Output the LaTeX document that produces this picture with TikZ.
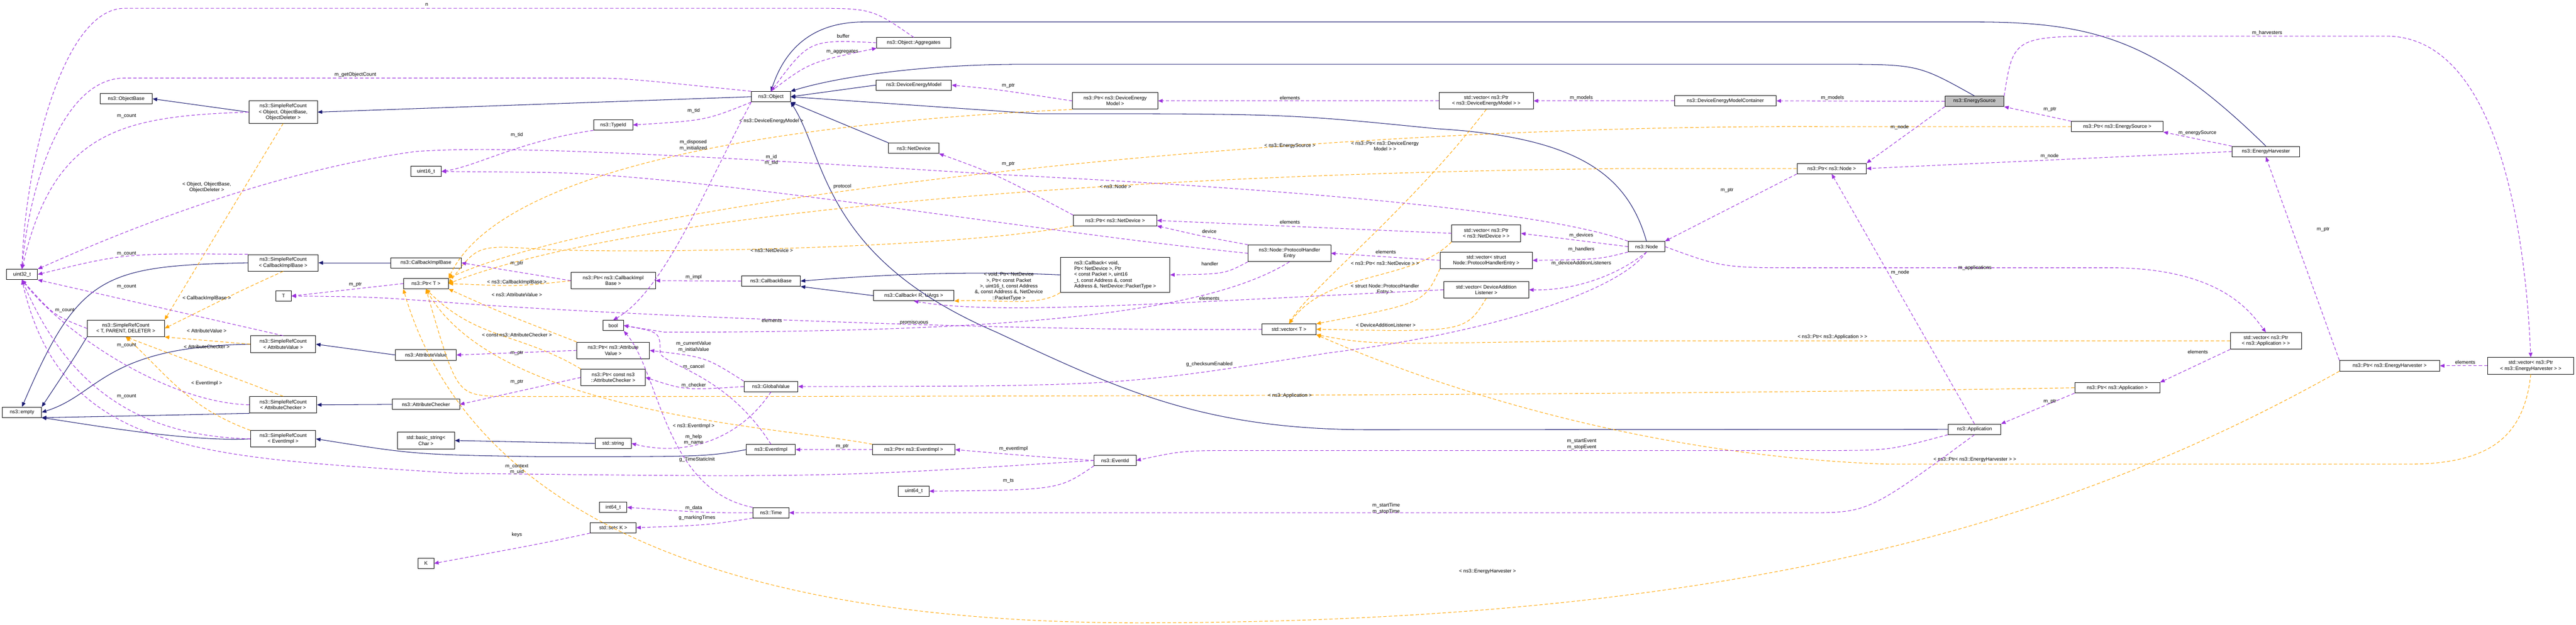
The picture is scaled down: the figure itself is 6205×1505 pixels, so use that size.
\documentclass[tikz,border=0pt]{standalone}
\usepackage{fontspec}
\setmainfont{Liberation Sans}
\usetikzlibrary{arrows.meta}
\definecolor{inhc}{RGB}{25,25,112}
\definecolor{memc}{RGB}{155,48,220}
\definecolor{tmpc}{RGB}{255,165,0}
\tikzset{
  box/.style={draw, line width=1.1pt, fill=white, align=center, inner sep=2pt, minimum height=25pt, font=\fontsize{12}{14}\selectfont},
  lbl/.style={align=center, inner sep=1pt, font=\fontsize{12}{14}\selectfont},
  inh/.style={draw=inhc, line width=1.3pt, -{Triangle[length=11pt,width=9pt]}},
  mem/.style={draw=memc, line width=1.3pt, dash pattern=on 8pt off 5pt, -{Triangle[length=11pt,width=9pt]}},
  tmp/.style={draw=tmpc, line width=1.3pt, dash pattern=on 8pt off 5pt, -{Triangle[length=11pt,width=9pt]}}
}
\begin{document}
\begin{tikzpicture}[x=1pt,y=-1pt]
\useasboundingbox (0,0) rectangle (6205,1505);
% nodes
\node[box,minimum width=75] (uint32) at (53,661) {uint32\_t};
\node[box,minimum width=126] (objbase) at (304,238) {ns3::ObjectBase};
\node[box,minimum width=165,minimum height=54] (srcobj) at (682,270) {ns3::SimpleRefCount\\< Object, ObjectBase,\\ObjectDeleter >};
\node[box,minimum width=74] (uint16) at (1026,413) {uint16\_t};
\node[box,minimum width=169,minimum height=40] (srccib) at (682,633) {ns3::SimpleRefCount\\< CallbackImplBase >};
\node[box,minimum width=170] (cib) at (1026,633) {ns3::CallbackImplBase};
\node[box,minimum width=108] (ptrT) at (1026,683) {ns3::Ptr< T >};
\node[box,minimum width=37] (T) at (683,713) {T};
\node[box,minimum width=186,minimum height=40] (srctpd) at (303,791) {ns3::SimpleRefCount\\< T, PARENT, DELETER >};
\node[box,minimum width=157,minimum height=40] (srcav) at (682,829) {ns3::SimpleRefCount\\< AttributeValue >};
\node[box,minimum width=146] (av) at (1026,855) {ns3::AttributeValue};
\node[box,minimum width=162,minimum height=40] (srcac) at (682,975) {ns3::SimpleRefCount\\< AttributeChecker >};
\node[box,minimum width=162] (ac) at (1026,974) {ns3::AttributeChecker};
\node[box,minimum width=94] (empty) at (53,993) {ns3::empty};
\node[box,minimum width=157,minimum height=40] (srcev) at (682,1057) {ns3::SimpleRefCount\\< EventImpl >};
\node[box,minimum width=138,minimum height=40] (bstr) at (1026,1061) {std::basic\_string<\\Char >};
\node[box,minimum width=38] (K) at (1026,1357) {K};
\node[box,minimum width=178] (agg) at (2201,103) {ns3::Object::Aggregates};
\node[box,minimum width=94] (obj) at (1857,233) {ns3::Object};
\node[box,minimum width=182] (dem) at (2201,205) {ns3::DeviceEnergyModel};
\node[box,minimum width=94] (typeid) at (1477,301) {ns3::TypeId};
\node[box,minimum width=121] (netdev) at (2201,357) {ns3::NetDevice};
\node[box,minimum width=203,minimum height=40] (ptrcib) at (1477,676) {ns3::Ptr< ns3::CallbackImpl\\Base >};
\node[box,minimum width=142] (cbbase) at (1857,677) {ns3::CallbackBase};
\node[box,minimum width=194] (cbR) at (2201,712) {ns3::Callback< R, UArgs >};
\node[box,minimum width=50] (bool) at (1477,784) {bool};
\node[box,minimum width=175,minimum height=40] (ptrav) at (1477,844) {ns3::Ptr< ns3::Attribute\\Value >};
\node[box,minimum width=155,minimum height=40] (ptrac) at (1477,909) {ns3::Ptr< const ns3\\::AttributeChecker >};
\node[box,minimum width=130] (gv) at (1857,931) {ns3::GlobalValue};
\node[box,minimum width=87] (str) at (1477,1068) {std::string};
\node[box,minimum width=118] (evimpl) at (1857,1083) {ns3::EventImpl};
\node[box,minimum width=199] (ptrev) at (2201,1083) {ns3::Ptr< ns3::EventImpl >};
\node[box,minimum width=74] (u64) at (2201,1183) {uint64\_t};
\node[box,minimum width=66] (i64) at (1477,1222) {int64\_t};
\node[box,minimum width=87] (time) at (1857,1235) {ns3::Time};
\node[box,minimum width=110] (setK) at (1477,1271) {std::set< K >};
\node[box,minimum width=206,minimum height=40] (ptrdem) at (2686,243) {ns3::Ptr< ns3::DeviceEnergy\\Model >};
\node[box,minimum width=227,minimum height=40] (vecdem) at (3580,243) {std::vector< ns3::Ptr\\< ns3::DeviceEnergyModel > >};
\node[box,minimum width=245] (demc) at (4156,243) {ns3::DeviceEnergyModelContainer};
\node[box,minimum width=201] (ptrnd) at (2686,531) {ns3::Ptr< ns3::NetDevice >};
\node[box,minimum width=166,minimum height=40] (vecnd) at (3580,562) {std::vector< ns3::Ptr\\< ns3::NetDevice > >};
\node[box,minimum width=199,minimum height=40] (phe) at (3106,610) {ns3::Node::ProtocolHandler\\Entry};
\node[box,minimum width=264,minimum height=85,align=left] (cbv) at (2686,662) {ns3::Callback< void,\\ Ptr< NetDevice >, Ptr\\< const Packet >, uint16\\\_t, const Address \&, const\\ Address \&, NetDevice::PacketType >};
\node[box,minimum width=222,minimum height=40] (vecphe) at (3580,627) {std::vector< struct\\ Node::ProtocolHandlerEntry >};
\node[box,minimum width=205,minimum height=40] (vecdal) at (3580,698) {std::vector< DeviceAddition\\Listener >};
\node[box,minimum width=88] (node) at (3966,594) {ns3::Node};
\node[box,minimum width=130] (vecT) at (3105,793) {std::vector< T >};
\node[box,minimum width=101] (evid) at (2686,1109) {ns3::EventId};
\node[box,minimum width=142,fill=black!25] (es) at (4756,244) {ns3::EnergySource};
\node[box,minimum width=221] (ptres) at (5100,305) {ns3::Ptr< ns3::EnergySource >};
\node[box,minimum width=163] (eh) at (5458,365) {ns3::EnergyHarvester};
\node[box,minimum width=167] (ptrnode) at (4412,406) {ns3::Ptr< ns3::Node >};
\node[box,minimum width=171,minimum height=40] (vecapp) at (5458,821) {std::vector< ns3::Ptr\\< ns3::Application > >};
\node[box,minimum width=241] (ptreh) at (5756,881) {ns3::Ptr< ns3::EnergyHarvester >};
\node[box,minimum width=207,minimum height=40] (veceh) at (6096,881) {std::vector< ns3::Ptr\\< ns3::EnergyHarvester > >};
\node[box,minimum width=205] (ptrapp) at (5100,934) {ns3::Ptr< ns3::Application >};
\node[box,minimum width=127] (app) at (4756,1034) {ns3::Application};
% inheritance
\draw[inh] (srcobj.west) -- (objbase.east);
\draw[inh] (obj.west) -- (srcobj.east);
\draw[inh] (dem.west) -- (obj.east);
\draw[inh] (netdev.north west) -- (obj.south east);
\draw[inh] (es.north) .. controls (4620,155) .. (4420,155) -- (2460,155) .. controls (2200,155) and (2000,190) .. (obj.north east);
\draw[inh] (eh.north) .. controls (5200,100) and (5050,53) .. (4760,53) -- (2080,53) .. controls (1930,53) and (1880,150) .. (obj.north);
\draw[inh] (node.north) .. controls (3920,420) and (3800,330) .. (3460,310) .. controls (3100,274) .. (2500,274) -- (obj.east);
\draw[inh] (app.west) -- (3300,1035) .. controls (2900,1035) and (2700,940) .. (2400,800) .. controls (1980,620) and (1990,380) .. (obj.south east);
\draw[inh] (srccib.west) .. controls (250,640) and (190,660) .. (empty.north);
\draw[inh] (cib.west) -- (srccib.east);
\draw[inh] (srctpd.south west) .. controls (180,860) .. (empty.north east);
\draw[inh] (srcav.west) .. controls (250,835) and (240,950) .. (empty.east);
\draw[inh] (av.west) -- (srcav.east);
\draw[inh] (srcac.south west) .. controls (400,1000) .. (empty.south east);
\draw[inh] (ac.west) -- (srcac.east);
\draw[inh] (srcev.west) .. controls (450,1065) and (200,1020) .. (empty.south east);
\draw[inh] (evimpl.west) .. controls (1700,1100) .. (1300,1100) .. controls (1000,1095) .. (srcev.east);
\draw[inh] (str.west) -- (bstr.east);
\draw[inh] (cbR.west) -- (cbbase.south east);
\draw[inh] (cbv.west) .. controls (2400,655) and (2200,655) .. (cbbase.east);
% templates
\draw[tmp] (srcobj.south) -- (srctpd.north east);
\node[lbl] (l1) at (498,451) {< Object, ObjectBase,\\ObjectDeleter >};
\draw[tmp] (srccib.south) .. controls (580,700) .. (srctpd.east);
\node[lbl] (l2) at (498,718) {< CallbackImplBase >};
\draw[tmp] (srcav.west) -- (srctpd.south east);
\node[lbl] (l3) at (498,797) {< AttributeValue >};
\draw[tmp] (srcac.north) -- (srctpd.south);
\node[lbl] (l4) at (498,835) {< AttributeChecker >};
\draw[tmp] (srcev.north west) .. controls (450,980) and (400,900) .. (srctpd.south);
\node[lbl] (l5) at (498,923) {< EventImpl >};
\draw[tmp] (ptrdem.south west) .. controls (1800,300) and (1200,420) .. (ptrT.north east);
\node[lbl] (l6) at (1858,292) {< ns3::DeviceEnergyModel >};
\draw[tmp] (ptres.west) -- (4380,305) .. controls (3100,300) and (1500,480) .. (ptrT.north east);
\node[lbl] (l7) at (3107,351) {< ns3::EnergySource >};
\draw[tmp] (ptrnode.west) -- (3900,406) .. controls (2600,420) and (1500,520) .. (ptrT.east);
\node[lbl] (l8) at (2687,449) {< ns3::Node >};
\draw[tmp] (ptrnd.south west) .. controls (2300,600) and (1500,612) .. (1300,600) .. controls (1150,590) .. (ptrT.east);
\node[lbl] (l9) at (1859,603) {< ns3::NetDevice >};
\draw[tmp] (ptrcib.west) .. controls (1250,690) .. (ptrT.east);
\node[lbl] (l10) at (1245,680) {< ns3::CallbackImplBase >};
\draw[tmp] (ptrav.north west) .. controls (1200,750) .. (ptrT.south east);
\node[lbl] (l11) at (1245,710) {< ns3::AttributeValue >};
\draw[tmp] (ptrac.north west) .. controls (1250,800) and (1150,820) .. (ptrT.south);
\node[lbl] (l12) at (1245,807) {< const ns3::AttributeChecker >};
\draw[tmp] (ptrev.north west) .. controls (1900,1030) and (1200,1000) .. (ptrT.south);
\node[lbl] (l13) at (1671,1026) {< ns3::EventImpl >};
\draw[tmp] (ptrapp.west) .. controls (3800,955) and (2000,955) .. (1200,955) .. controls (1100,950) .. (ptrT.south);
\node[lbl] (l14) at (3107,953) {< ns3::Application >};
\draw[tmp] (ptreh.south west) .. controls (5000,1250) and (4200,1505) .. (2700,1500) .. controls (1500,1490) and (1090,1100) .. (ptrT.south west);
\node[lbl] (l15) at (3583,1376) {< ns3::EnergyHarvester >};
\draw[tmp] (vecdem.south) .. controls (3400,500) and (3150,700) .. (vecT.north);
\node[lbl] (l16) at (3336,352) {< ns3::Ptr< ns3::DeviceEnergy\\Model > >};
\draw[tmp] (vecnd.south west) .. controls (3400,680) and (3200,650) .. (vecT.north);
\node[lbl] (l17) at (3336,634) {< ns3::Ptr< ns3::NetDevice > >};
\draw[tmp] (vecphe.south west) .. controls (3430,730) .. (vecT.north east);
\node[lbl] (l18) at (3336,697) {< struct Node::ProtocolHandler\\Entry >};
\draw[tmp] (vecdal.south) .. controls (3530,800) .. (vecT.east);
\node[lbl] (l19) at (3338,783) {< DeviceAdditionListener >};
\draw[tmp] (vecapp.west) -- (3800,821) .. controls (3300,830) .. (vecT.south east);
\node[lbl] (l20) at (4414,812) {< ns3::Ptr< ns3::Application > >};
\draw[tmp] (veceh.south) .. controls (6080,1050) and (6000,1118) .. (5800,1118) -- (4550,1118) .. controls (4000,1100) and (3500,950) .. (vecT.south east);
\node[lbl] (l21) at (4757,1107) {< ns3::Ptr< ns3::EnergyHarvester > >};
\draw[tmp] (cbv.south west) .. controls (2500,740) and (2400,720) .. (cbR.south east);
\node[lbl] (l22) at (2430,690) {< void, Ptr< NetDevice\\>, Ptr< const Packet\\>, uint16\_t, const Address\\\&, const Address \&, NetDevice\\::PacketType >};
% members
\draw[mem] (srcobj.west) .. controls (300,280) and (130,310) .. (uint32.north);
\node[lbl] (m1) at (305,280) {m\_count};
\draw[mem] (srccib.north west) .. controls (300,610) .. (uint32.east);
\node[lbl] (m2) at (305,611) {m\_count};
\draw[mem] (srctpd.west) .. controls (130,760) .. (uint32.south);
\node[lbl] (m3) at (156,748) {m\_count};
\draw[mem] (srcav.north) -- (uint32.south east);
\node[lbl] (m4) at (305,691) {m\_count};
\draw[mem] (srcac.west) .. controls (400,970) and (150,800) .. (uint32.south);
\node[lbl] (m5) at (305,832) {m\_count};
\draw[mem] (srcev.west) .. controls (300,1050) and (150,900) .. (uint32.south);
\node[lbl] (m6) at (305,955) {m\_count};
\draw[mem] (agg.north) .. controls (2100,20) .. (1950,20) -- (300,20) .. controls (150,20) and (60,400) .. (uint32.north);
\node[lbl] (m7) at (1028,11) {n};
\draw[mem] (obj.north west) .. controls (1500,188) .. (1400,188) -- (300,188) .. controls (150,188) and (70,450) .. (uint32.north);
\node[lbl] (m8) at (856,180) {m\_getObjectCount};
\draw[mem] (typeid.south west) .. controls (1250,340) and (1150,400) .. (uint16.east);
\node[lbl] (m9) at (1245,325) {m\_tid};
\draw[mem] (phe.west) .. controls (2500,560) and (1700,420) .. (1300,415) -- (uint16.east);
\node[lbl] (m10) at (2029,449) {protocol};
\draw[mem] (node.north west) .. controls (3700,500) and (3000,450) .. (2400,420) .. controls (1600,370) and (1200,350) .. (1000,365) .. controls (600,420) and (200,600) .. (uint32.north east);
\node[lbl] (m11) at (1858,385) {m\_id\\m\_sid};
\draw[mem] (obj.south west) .. controls (1700,290) .. (typeid.east);
\node[lbl] (m12) at (1671,267) {m\_tid};
\draw[mem] (obj.north) .. controls (1950,150) .. (agg.south west);
\node[lbl] (m13) at (2029,124) {m\_aggregates};
\draw[mem] (agg.west) .. controls (1950,95) .. (obj.north);
\node[lbl] (m14) at (2031,87) {buffer};
\draw[mem] (obj.south west) .. controls (1700,450) and (1600,700) .. (bool.north);
\node[lbl] (m15) at (1670,350) {m\_disposed\\m\_initialized};
\draw[mem] (ptrT.west) -- (T.east);
\node[lbl] (m16) at (856,685) {m\_ptr};
\draw[mem] (ptrcib.west) -- (cib.east);
\node[lbl] (m17) at (1245,635) {m\_ptr};
\draw[mem] (cbbase.west) -- (ptrcib.east);
\node[lbl] (m18) at (1671,668) {m\_impl};
\draw[mem] (ptrav.west) -- (av.east);
\node[lbl] (m19) at (1245,851) {m\_ptr};
\draw[mem] (ptrac.west) -- (ac.east);
\node[lbl] (m20) at (1245,920) {m\_ptr};
\draw[mem] (gv.north west) .. controls (1700,860) .. (ptrav.east);
\node[lbl] (m21) at (1671,835) {m\_currentValue\\m\_initialValue};
\draw[mem] (gv.west) .. controls (1650,940) .. (ptrac.east);
\node[lbl] (m22) at (1671,928) {m\_checker};
\draw[mem] (gv.south) .. controls (1780,1060) and (1650,1100) .. (str.east);
\node[lbl] (m23) at (1671,1059) {m\_help\\m\_name};
\draw[mem] (evimpl.north) .. controls (1750,900) and (1600,880) .. (1590,850) .. controls (1590,800) .. (bool.east);
\node[lbl] (m24) at (1671,884) {m\_cancel};
\draw[mem] (ptrev.west) -- (evimpl.east);
\node[lbl] (m25) at (2029,1075) {m\_ptr};
\draw[mem] (evid.west) .. controls (2500,1100) .. (ptrev.east);
\node[lbl] (m26) at (2441,1081) {m\_eventImpl};
\draw[mem] (evid.south west) .. controls (2550,1180) .. (u64.east);
\node[lbl] (m27) at (2429,1158) {m\_ts};
\draw[mem] (evid.west) .. controls (2000,1150) .. (1100,1140) .. controls (500,1100) and (150,1100) .. (uint32.south);
\node[lbl] (m28) at (1245,1130) {m\_context\\m\_uid};
\draw[mem] (time.west) .. controls (1700,1235) .. (i64.east);
\node[lbl] (m29) at (1671,1224) {m\_data};
\draw[mem] (time.south west) .. controls (1700,1265) .. (setK.east);
\node[lbl] (m30) at (1679,1247) {g\_markingTimes};
\draw[mem] (time.north west) .. controls (1600,1180) and (1590,900) .. (bool.south east);
\node[lbl] (m31) at (1679,1107) {g\_TimeStaticInit};
\draw[mem] (setK.south west) .. controls (1300,1310) .. (K.east);
\node[lbl] (m32) at (1245,1288) {keys};
\draw[mem] (vecT.west) .. controls (2500,800) and (1500,760) .. (1100,730) .. controls (900,715) .. (T.east);
\node[lbl] (m33) at (1859,772) {elements};
\draw[mem] (ptrdem.west) .. controls (2400,215) .. (dem.east);
\node[lbl] (m34) at (2429,207) {m\_ptr};
\draw[mem] (vecdem.west) -- (ptrdem.east);
\node[lbl] (m35) at (3107,236) {elements};
\draw[mem] (demc.west) -- (vecdem.east);
\node[lbl] (m36) at (3809,236) {m\_models};
\draw[mem] (es.west) -- (demc.east);
\node[lbl] (m37) at (4414,236) {m\_models};
\draw[mem] (es.south west) -- (ptrnode.north east);
\node[lbl] (m38) at (4576,307) {m\_node};
\draw[mem] (ptres.north west) -- (es.south east);
\node[lbl] (m39) at (4938,263) {m\_ptr};
\draw[mem] (eh.north west) -- (ptres.south east);
\node[lbl] (m40) at (5293,320) {m\_energySource};
\draw[mem] (eh.west) -- (ptrnode.east);
\node[lbl] (m41) at (4937,376) {m\_node};
\draw[mem] (ptrnode.south west) -- (node.north east);
\node[lbl] (m42) at (4160,459) {m\_ptr};
\draw[mem] (ptrnd.north west) .. controls (2400,420) .. (netdev.south east);
\node[lbl] (m43) at (2429,395) {m\_ptr};
\draw[mem] (vecnd.west) -- (ptrnd.east);
\node[lbl] (m44) at (3107,535) {elements};
\draw[mem] (node.west) -- (vecnd.east);
\node[lbl] (m45) at (3809,567) {m\_devices};
\draw[mem] (node.south west) .. controls (3850,625) .. (vecphe.east);
\node[lbl] (m46) at (3809,600) {m\_handlers};
\draw[mem] (vecphe.west) -- (phe.east);
\node[lbl] (m47) at (3338,607) {elements};
\draw[mem] (phe.north west) .. controls (2900,570) .. (ptrnd.south east);
\node[lbl] (m48) at (2913,557) {device};
\draw[mem] (phe.south west) .. controls (2950,660) .. (cbv.east);
\node[lbl] (m49) at (2914,636) {handler};
\draw[mem] (phe.south) .. controls (2900,760) and (2400,800) .. (1600,800) -- (bool.east);
\node[lbl] (m50) at (2202,777) {promiscuous};
\draw[mem] (node.south) .. controls (3900,660) and (3800,700) .. (vecdal.east);
\node[lbl] (m51) at (3809,634) {m\_deviceAdditionListeners};
\draw[mem] (vecdal.west) .. controls (2800,730) and (2400,760) .. (cbR.south);
\node[lbl] (m52) at (2913,719) {elements};
\draw[mem] (node.south) .. controls (3900,700) and (3600,800) .. (3200,850) .. controls (2700,930) .. (gv.east);
\node[lbl] (m53) at (2913,877) {g\_checksumEnabled};
\draw[mem] (node.east) .. controls (4150,645) .. (4350,645) -- (5100,645) .. controls (5350,650) and (5420,750) .. (vecapp.north);
\node[lbl] (m54) at (4757,645) {m\_applications};
\draw[mem] (vecapp.south west) -- (ptrapp.north east);
\node[lbl] (m55) at (5294,848) {elements};
\draw[mem] (ptrapp.south west) -- (app.north east);
\node[lbl] (m56) at (4938,967) {m\_ptr};
\draw[mem] (app.north) -- (ptrnode.south);
\node[lbl] (m57) at (4577,656) {m\_node};
\draw[mem] (app.south west) .. controls (4550,1085) .. (4400,1085) -- (3000,1085) .. controls (2850,1085) .. (evid.east);
\node[lbl] (m58) at (3810,1070) {m\_startEvent\\m\_stopEvent};
\draw[mem] (app.south) .. controls (4500,1235) .. (4350,1235) -- (time.east);
\node[lbl] (m59) at (3339,1225) {m\_startTime\\m\_stopTime};
\draw[mem] (es.north east) .. controls (4850,87) .. (5100,87) -- (5750,87) .. controls (6000,90) and (6080,500) .. (veceh.north);
\node[lbl] (m60) at (5461,79) {m\_harvesters};
\draw[mem] (veceh.west) -- (ptreh.east);
\node[lbl] (m61) at (5938,872) {elements};
\draw[mem] (ptreh.north west) -- (eh.south);
\node[lbl] (m62) at (5596,553) {m\_ptr};
\end{tikzpicture}
\end{document}
